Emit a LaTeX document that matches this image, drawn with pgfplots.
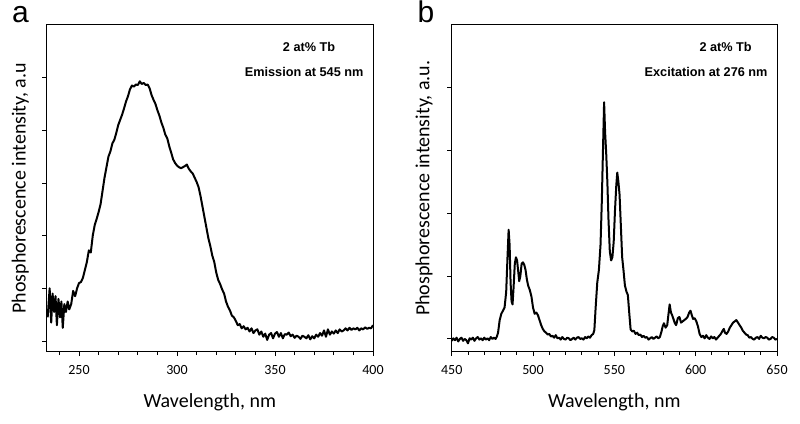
\documentclass[border=0pt]{standalone}
\usepackage{pgfplots}
\pgfplotsset{compat=1.18}
\usepackage{fontspec}
\setmainfont{Carlito}
\newfontfamily\arial{Liberation Sans}

\pgfplotstableread{
x y
234 0.45
235 1.0
235.8 0.35
236.5 0.9
237.3 0.55
238 0.85
238.7 0.3
239.5 0.8
240.3 0.45
241 0.75
241.7 0.25
242.5 0.7
243.3 0.55
244.2 0.75
245 0.6
246 0.7
247 0.95
248 0.85
249 1.0
250 1.1
251 1.12
252 1.2
253 1.35
254 1.5
255 1.72
256 1.68
257 2.0
258 2.2
259 2.32
260 2.45
261 2.6
262 2.85
263 3.1
264 3.3
265 3.5
266 3.6
267 3.75
268 3.82
269 3.95
270 4.1
271 4.2
272 4.3
273 4.42
274 4.55
275 4.65
276 4.78
277 4.85
278 4.83
279 4.87
280 4.86
281 4.93
282 4.88
283 4.9
284 4.86
285 4.87
286 4.8
287 4.67
288 4.58
289 4.5
290 4.38
291 4.28
292 4.15
293 4.05
294 3.92
295 3.85
296 3.7
297 3.58
298 3.45
299 3.38
300 3.33
301 3.3
302 3.28
303 3.3
304 3.32
305 3.35
306 3.27
307 3.22
308 3.18
309 3.1
310 3.02
311 2.92
312 2.75
313 2.55
314 2.35
315 2.15
316 1.95
317 1.8
318 1.62
319 1.5
320 1.3
321 1.16
322 1.08
323 0.98
324 0.9
325 0.75
326 0.65
327 0.58
328 0.48
329 0.45
330 0.38
331 0.3
332 0.32
333 0.24
334 0.28
335 0.22
336 0.25
337 0.18
338 0.24
339 0.15
340 0.2
341 0.22
342 0.12
343 0.18
344 0.08
345 0.14
346 0.02
347 0.12
348 0.15
349 0.05
350 0.14
351 0.17
352 0.08
353 0.15
354 0.05
355 0.13
356 0.12
357 0.16
358 0.09
359 0.12
360 0.06
361 0.1
362 0.08
363 0.04
364 0.1
365 0.08
366 0.05
367 0.11
368 0.03
369 0.09
370 0.05
371 0.12
372 0.08
373 0.15
374 0.1
375 0.2
376 0.08
377 0.22
378 0.12
379 0.18
380 0.14
381 0.2
382 0.15
383 0.22
384 0.18
385 0.2
386 0.24
387 0.2
388 0.25
389 0.21
390 0.24
391 0.22
392 0.25
393 0.2
394 0.24
395 0.22
396 0.26
397 0.23
398 0.25
399 0.24
400 0.3
}\excitation

\pgfplotstableread{
x y
450 -0.03
451 0.01
452 -0.02
453 0.02
454 -0.04
455 0.0
456 0.02
457 -0.03
458 0.0
459 -0.02
460 -0.07
461 0.01
462 -0.01
463 0.02
464 -0.03
465 0.01
466 0.03
467 -0.01
468 0.01
469 -0.02
470 0.02
471 -0.01
472 0.01
473 -0.02
474 0.03
475 0.0
476 0.02
477 0.0
477.8 0.04
478.5 0.1
479.5 0.3
480.5 0.4
481.5 0.45
482.5 0.5
483.5 0.75
484.3 1.3
485 1.74
485.6 1.5
486.2 0.9
486.8 0.6
487.4 0.55
488 0.8
488.8 1.2
489.5 1.3
490.2 1.25
490.8 1.1
491.5 0.92
492.2 1.0
493 1.2
493.8 1.22
494.6 1.18
495.4 1.1
496.2 0.95
497 0.85
498 0.78
499 0.68
500 0.5
501 0.4
502 0.42
503 0.38
504 0.3
505 0.22
506 0.16
507 0.12
508 0.1
509 0.07
510 0.08
511 0.04
512 0.05
513 0.02
514 0.06
515 0.01
516 0.02
517 -0.01
518 0.03
519 0.0
520 -0.01
521 0.02
522 0.01
523 -0.02
524 0.0
525 0.02
526 -0.01
527 0.02
528 0.03
529 0.0
530 0.01
531 -0.01
532 0.03
533 0.01
534 0.04
535 0.02
536 0.06
537 0.08
537.7 0.14
538.5 0.5
539.5 0.9
540.5 1.1
541.5 1.5
542.3 2.2
543 3.0
543.7 3.77
544.3 3.3
545 2.95
545.7 2.5
546.4 1.9
547.2 1.4
548 1.25
548.8 1.3
549.6 1.55
550.4 2.05
551.2 2.45
551.8 2.65
552.5 2.5
553.2 2.3
554 1.8
554.8 1.3
555.6 1.1
556.5 0.85
557.5 0.75
558.3 0.7
559.2 0.4
560 0.15
561 0.12
562 0.13
563 0.08
564 0.1
565 0.06
566 0.07
567 0.03
568 0.05
569 0.02
570 0.03
571 -0.01
572 0.01
573 0.03
574 0.0
575 0.02
576 0.04
577 0.01
578 0.03
579 0.12
579.7 0.2
580.5 0.25
581.5 0.18
582.5 0.22
583.3 0.4
584 0.55
584.8 0.42
585.5 0.38
586.3 0.32
587.2 0.25
588 0.22
589 0.33
590 0.35
591 0.26
592 0.28
593 0.3
594 0.32
595 0.35
596 0.42
596.8 0.45
597.6 0.38
598.4 0.32
599.4 0.33
600.4 0.28
601.4 0.2
602.4 0.08
603.5 0.03
604.5 0.05
605.5 0.01
606.5 0.06
607.5 0.02
608.5 0.0
609.5 0.04
610.5 0.01
611.5 0.03
612.5 -0.01
613.5 0.02
614.5 0.05
615.5 0.08
616.5 0.13
617.3 0.16
618 0.1
619 0.08
620 0.12
621 0.18
622 0.22
623 0.26
624 0.28
625 0.3
626 0.26
627 0.22
628 0.18
629 0.13
630 0.1
631 0.07
632 0.06
633 0.02
634 0.03
635 0.0
636 -0.01
637 0.02
638 0.03
639 0.0
640 0.05
641 0.02
642 0.01
643 0.03
644 0.02
645 -0.01
646 0.0
647 0.03
648 0.02
649 -0.01
650 0.0
}\emission

\pgfplotsset{
  myaxis/.style={
    scale only axis,
    anchor=south west,
    axis line style={line width=1pt},
    tick style={line width=0.9pt, black},
    tick align=outside,
    xtick pos=bottom,
    ytick pos=left,
    major tick length=4.5pt,
    minor tick length=3.5pt,
    yticklabels={},
    ticklabel style={font=\fontsize{14}{16}\selectfont},
    xticklabel style={yshift=-6pt},
    /pgf/number format/assume math mode=true,
    /pgf/number format/1000 sep={},
    every axis x label/.style={at={(axis description cs:0.5,-0.155)}, anchor=center, font=\fontsize{20}{24}\selectfont},
    clip=true,
  },
}
\tikzset{txt/.style={font=\fontsize{12.7}{15}\selectfont\arial\bfseries, anchor=center}}

\begin{document}
\begin{tikzpicture}
\useasboundingbox (0,0) rectangle (800pt,423pt);

\begin{axis}[myaxis,
  at={(46.7pt,71.5pt)}, width=326.3pt, height=326.5pt,
  xmin=233.5, xmax=400, ymin=-0.2, ymax=6.0,
  xtick={250,300,350,400},
  minor xtick={240,260,270,280,290,310,320,330,340,360,370,380,390},
  ytick={0,1,2,3,4,5},
  xlabel={Wavelength, nm},
  ylabel={Phosphorescence intensity, a.u},
  every axis y label/.style={at={(axis description cs:-0.081,0.5)}, anchor=center, rotate=90, font=\fontsize{20}{24}\selectfont},
]
\addplot[black, line width=2pt, line join=round] table[x=x,y=y] {\excitation};
\node[txt] at (rel axis cs:0.804,0.933) {2 at\% Tb};
\node[txt] at (rel axis cs:0.789,0.856) {Emission at 545 nm};
\end{axis}

\begin{axis}[myaxis,
  at={(451.7pt,71.5pt)}, width=325.3pt, height=326.5pt,
  xmin=450, xmax=650, ymin=-0.2, ymax=5.0,
  xtick={450,500,550,600,650},
  minor xtick={460,470,480,490,510,520,530,540,560,570,580,590,610,620,630,640},
  ytick={0,1,2,3,4},
  xlabel={Wavelength, nm},
  ylabel={Phosphorescence intensity, a.u.},
  every axis y label/.style={at={(axis description cs:-0.085,0.5)}, anchor=center, rotate=90, font=\fontsize{20}{24}\selectfont},
]
\addplot[black, line width=2pt, line join=round] table[x=x,y=y] {\emission};
\node[txt] at (rel axis cs:0.842,0.933) {2 at\% Tb};
\node[txt] at (rel axis cs:0.782,0.856) {Excitation at 276 nm};
\end{axis}

\node[font=\fontsize{30}{34}\selectfont\arial, anchor=base] at (20.5pt,400pt) {a};
\node[font=\fontsize{30}{34}\selectfont\arial, anchor=base] at (426pt,400pt) {b};
\end{tikzpicture}
\end{document}
